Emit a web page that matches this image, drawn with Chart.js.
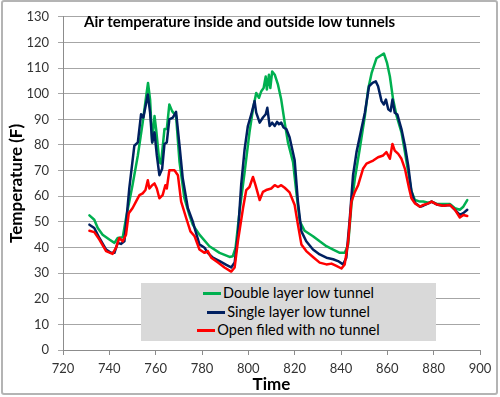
<!DOCTYPE html>
<html>
<head>
<meta charset="utf-8">
<script src="https://cdn.jsdelivr.net/npm/chart.js@4/dist/chart.umd.min.js"></script>
<style>
  html, body { margin: 0; padding: 0; background: #fff; }
  #wrap { position: relative; width: 500px; height: 397px; background: #fff; overflow: hidden; }
  #c { position: absolute; left: 0; top: 0; }
  #title { position: absolute; left: 84px; top: 11px; font: bold 15px Lato, "Liberation Sans", sans-serif; color: #000; white-space: nowrap; line-height: 20px; }
  #legend { position: absolute; left: 141px; top: 283px; width: 295px; height: 58px; background: #d9d9d9;
            display: flex; flex-direction: column; align-items: center; justify-content: center;
            font: 14.5px Lato, "Liberation Sans", sans-serif; color: #000; }
  #legend .row { display: flex; align-items: center; height: 18.5px; line-height: 18.5px; white-space: nowrap; }
  #legend .sw { width: 18px; height: 3px; margin-right: 2px; }
  #frame { position: absolute; left: 1px; top: 0px; width: 493px; height: 391px; border: 2px solid #b4b4b4; border-radius: 3px; pointer-events: none; }
</style>
</head>
<body>
<div id="wrap">
  <canvas id="c" width="500" height="397"></canvas>
  <div id="title">Air temperature inside and outside low tunnels</div>
  <div id="legend"></div>
  <div id="frame"></div>
</div>
<script>
// ---- data ----
const seriesNames = ['Double layer low tunnel', 'Single layer low tunnel', 'Open filed with no tunnel'];
const seriesColors = ['#00b050', '#002060', '#ff0000'];

const doubleTime = [731.4,733.5,735,737.1,740,742.2,743.6,745.8,747.2,750,752.3,754.4,755.9,756.7,757.6,758.5,759.5,760.2,761.6,762.3,763.8,764.8,765.9,767.1,768.8,770.3,772.4,774.6,776,778.9,783.2,787.6,791.9,793.3,794.5,796.2,798.4,800.5,802,803.4,804.6,805.6,806.6,807.5,808,808.9,809.5,810.3,811.4,812.8,814.2,815.7,817.1,819.3,820.7,822.2,824.3,827.9,830.8,833.7,836.6,839.5,841.6,843.1,844.5,846,848.1,850.3,851.7,853.2,855.3,857.5,858.5,859.9,861.1,862.5,864,866.1,867.6,869,870.4,871.9,874.1,875.5,877.7,879.1,881.3,884.1,887,889.2,891.3,892.8,894.5];
const doubleTemp = [52.5,50.8,47.6,45,43.1,41.8,43.7,44,51.4,64.3,75.9,88.7,99,104.2,97.7,81,91.3,86.2,73.3,72.7,86.2,86.2,95.8,93.2,91.3,73.3,59.2,52.5,48.9,45,40.5,37.9,36.3,36.6,39.9,54,69.4,84.9,93.9,100.3,98.4,101,102.2,106.7,101.6,107.4,102.2,108.7,107.4,103.5,97.7,88.7,81,73.3,61.7,50.2,46.5,44.4,42.4,40.5,39.2,37.9,37.9,41.2,56.6,66.9,78.5,91.3,101.6,108,113.8,115.1,115.7,111.9,106.7,97.7,91.3,84.9,77.2,69.5,62,58.5,57.9,57.9,57.5,57.9,57,57,57,55.3,54.7,55.9,58.5];

const singleTime = [731.4,733.5,735.7,738.6,740.7,742.2,743.6,745,746.5,748.6,750.8,752.3,753.7,754.7,755.9,756.6,757.6,758.5,759.5,760.5,761.6,762.8,763.8,764.8,765.9,767.4,768.8,770.3,771.7,773.9,776,776.8,778.9,781.1,782.5,784.7,787.6,790.5,792.6,794.1,795.5,796.9,798.4,799.8,801.3,802.7,803.4,804.9,806.3,807.5,808.2,809.2,810.3,811.4,812.4,813.2,814.2,815.2,816.4,817.8,820,821.4,822.9,825,827.9,830.8,833.7,836.6,838.7,840.9,842.3,843.8,845.2,846.7,848.8,850.3,852.1,853.6,855,856,857.5,858.5,859.4,860.4,861.4,862.2,863.2,864.3,866.1,867.6,869,870.4,871.9,874.1,875.5,877.7,879.1,881.3,884.1,887,889.2,891.3,892.8,894.5];
const singleTemp = [48.9,47.6,43.7,39.2,37.9,37.9,41.8,41.4,42.4,63,79.7,81,92,90.7,96.4,99.7,92.6,81,84.9,75.9,68.2,70.7,80.4,81,90,90.7,92.9,79.7,66.9,55.3,50.2,47.6,41.2,39.9,37.9,36,34.7,33.2,32.2,34.1,45,64.3,78.4,87.4,92,97.1,92.6,88.7,90.7,92,94.5,87.4,88.7,87.4,89,88.1,88.7,86.8,86.2,83,74,57.9,46.3,42.4,39.2,37.3,36,35.4,34.7,33.4,36,51.4,68.2,77.2,86.2,92.6,102.9,104.2,104.8,102.9,97.1,95.8,97.7,93.9,93.2,97.7,92.6,91.9,86.2,79.7,72,62,57.5,55.9,56.3,57.2,57.9,56.8,56.3,56.6,54.7,52.7,53.4,54.7];

const openTime = [731.4,733.5,735.7,738.6,741.4,742.9,744.3,745.8,747.2,748.4,750,751.5,753,754.4,755.6,756.6,757.3,758.5,759.5,760.5,761.6,763,764.2,764.8,765.9,768.1,769.6,771,773.2,775,776.8,778.9,781.1,782.5,784,786.9,789.7,792.6,794.1,795.5,797.7,799.1,800.5,802,803.1,804.9,806.3,807.7,809.9,811.4,812.8,814.2,815.7,817.8,820,821.4,822.9,825,827.9,830.8,833.7,835.9,838,840.2,841.6,843.1,844.5,846,847.4,849.5,851,852.4,853.9,856,858.2,859.6,861.1,862.2,863.2,864.7,866.1,867.6,869.4,870.4,871.9,874.1,875.5,877.7,879.1,881.3,884.1,887,889.2,891.3,892.8,894.5];
const openTemp = [46.5,46,43.1,38.6,37.5,39.9,43.7,42.4,45,53.4,55.3,57.9,60.4,61.1,62.4,66.2,63,64.3,65,63,59.2,60.4,64.3,63,70.1,70.1,68.2,57.9,51.4,46.3,44.4,39.2,37.9,38.6,36,34.1,32.2,30.6,32.2,42.4,55.3,62.4,63.6,67.5,64.3,58.5,61.7,62.4,63,64.3,63.6,64.3,63.3,61.5,56.6,48.9,41.2,38.6,36.3,34.1,33.4,33.7,32.8,31.8,33.4,42.4,57.9,61.7,64.3,70.7,72.7,73.3,73.9,75.2,75.9,77.2,74.6,80.4,77.8,76.5,74.6,70.7,63,59.2,57.2,55.9,56.6,57.2,57.9,56.8,56.3,56.6,54.7,51.7,52.7,52.3];

const xTicksMin = 720, xTicksMax = 900, xStep = 20;
const yTicksMin = 0, yTicksMax = 130, yStep = 10;

const xTitle = 'Time';
const yTitle = 'Temperature (F)';

function pts(t, v) { return t.map((x, i) => ({ x: x, y: v[i] })); }

const fontFam = 'Lato, "Liberation Sans", sans-serif';

const chart = new Chart(document.getElementById('c'), {
  type: 'line',
  data: {
    datasets: [
      { label: seriesNames[0], data: pts(doubleTime, doubleTemp), borderColor: seriesColors[0], order: 2 },
      { label: seriesNames[1], data: pts(singleTime, singleTemp), borderColor: seriesColors[1], order: 1 },
      { label: seriesNames[2], data: pts(openTime, openTemp), borderColor: seriesColors[2], order: 0 }
    ]
  },
  options: {
    responsive: false,
    animation: false,
    devicePixelRatio: 1,
    layout: { padding: { top: 11, right: 20, left: 0, bottom: 0 } },
    elements: {
      point: { radius: 0 },
      line: { borderWidth: 2.5, tension: 0, fill: false, borderJoinStyle: 'round', borderCapStyle: 'round' }
    },
    plugins: { legend: { display: false }, tooltip: { enabled: false } },
    scales: {
      x: {
        type: 'linear', min: xTicksMin, max: xTicksMax,
        ticks: { stepSize: xStep, color: '#333', font: { family: fontFam, size: 13 }, padding: 6, maxRotation: 0 },
        grid: { drawOnChartArea: false, drawTicks: true, tickLength: 5, color: '#8c8c8c' },
        border: { color: '#8c8c8c', width: 1 },
        title: { display: true, text: xTitle, color: '#000', font: { family: fontFam, size: 17, weight: 'bold' }, padding: { top: 0, bottom: 2 } },
        afterFit: s => { s.height = 47; }
      },
      y: {
        min: yTicksMin, max: yTicksMax,
        ticks: { stepSize: yStep, color: '#333', font: { family: fontFam, size: 13 }, padding: 9 },
        grid: { color: '#a6a6a6', tickLength: 5, drawTicks: true },
        border: { color: '#8c8c8c', width: 1 },
        title: { display: true, text: yTitle, color: '#000', font: { family: fontFam, size: 17, weight: 'bold' }, padding: { top: 6, bottom: 0 } },
        afterFit: s => { s.width = 63; }
      }
    }
  }
});

// HTML legend built from the chart's datasets
const leg = document.getElementById('legend');
chart.data.datasets.forEach(ds => {
  const row = document.createElement('div');
  row.className = 'row';
  const sw = document.createElement('span');
  sw.className = 'sw';
  sw.style.background = ds.borderColor;
  const tx = document.createElement('span');
  tx.textContent = ds.label;
  row.appendChild(sw); row.appendChild(tx);
  leg.appendChild(row);
});
</script>
</body>
</html>
